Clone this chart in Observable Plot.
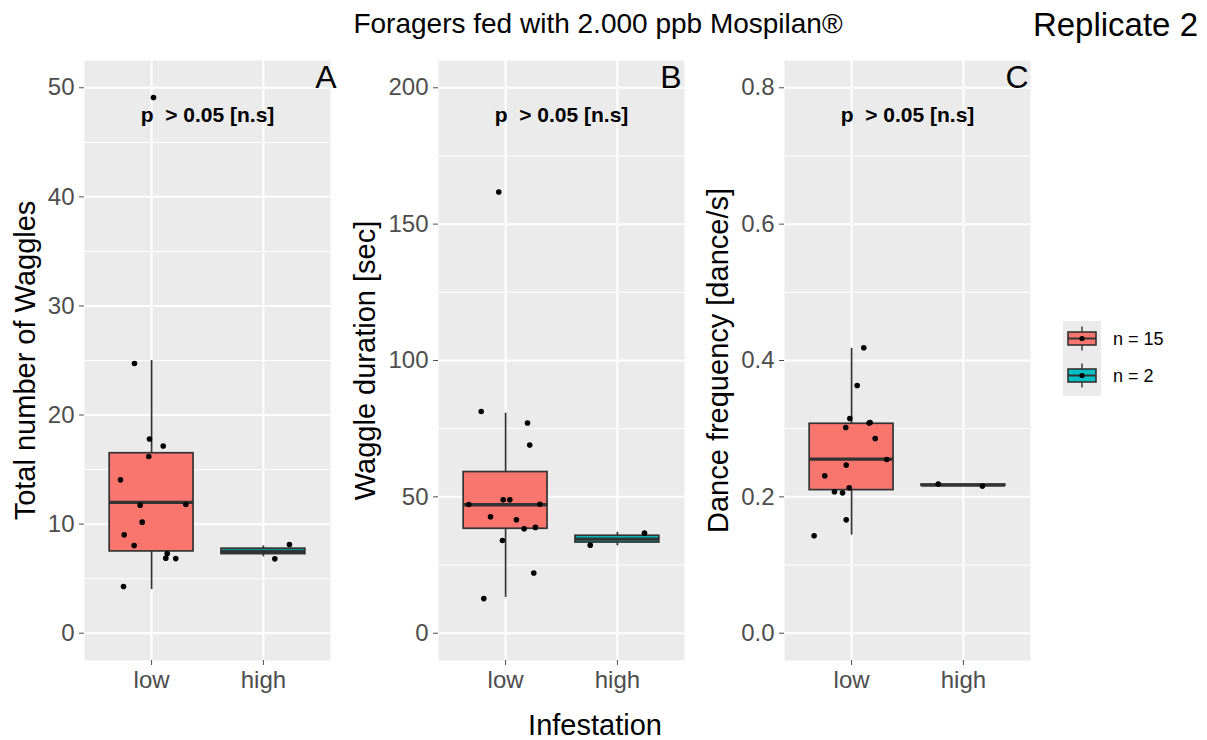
<!DOCTYPE html>
<html>
<head>
<meta charset="utf-8">
<script src="https://cdn.jsdelivr.net/npm/d3@7"></script>
<script src="https://cdn.jsdelivr.net/npm/@observablehq/plot@0.6"></script>
<style>
  body { margin: 0; background: #fff; }
  #chart { position: relative; width: 1207px; height: 740px; overflow: hidden;
           font-family: "Liberation Sans", Arial, Helvetica, sans-serif; }
  #chart > svg { position: absolute; top: 0; }
</style>
</head>
<body>
<div id="chart"></div>
<script>
// Groups, legend entries and fill colours
const groups = ["low", "high"];
const legendLabels = ["n = 15", "n = 2"];
const groupColors = ["#F8766D", "#00BFC4"];

// A: total number of waggles (jitter = horizontal offset in category units)
const countLow = [24.73, 17.80, 17.16, 16.20, 14.06, 11.74, 11.80, 10.18, 9.02, 8.04, 7.30, 6.88, 6.84, 4.28, 49.11];
const countLowJitter = [-0.153, -0.019, 0.104, -0.025, -0.278, -0.102, 0.306, -0.084, -0.245, -0.156, 0.14, 0.127, 0.216, -0.251, 0.017];
const countHigh = [8.13, 6.82];
const countHighJitter = [0.233, 0.102];
// box statistics: [lower whisker, Q1, median, Q3, upper whisker]
const countBoxLow = [4, 7.5, 12, 16.5, 25];
const countBoxHigh = [7, 7.25, 7.5, 7.75, 8];
const countTicks = [0, 10, 20, 30, 40, 50];
const countMinor = [5, 15, 25, 35, 45];

// B: waggle duration [sec]
const durationLow = [161.8, 81.3, 77.1, 69.0, 48.9, 48.9, 47.2, 47.3, 42.7, 41.6, 38.3, 38.8, 34.0, 22.1, 12.7];
const durationLowJitter = [-0.061, -0.218, 0.196, 0.216, -0.021, 0.038, -0.329, 0.306, -0.135, 0.097, 0.166, 0.267, -0.028, 0.252, -0.195];
const durationHigh = [32.3, 36.7];
const durationHighJitter = [-0.243, 0.242];
const durationBoxLow = [13.1, 38.3, 47.1, 59.1, 80.7];
const durationBoxHigh = [32, 33.25, 34.5, 35.75, 37];
const durationTicks = [0, 50, 100, 150, 200];
const durationMinor = [25, 75, 125, 175];

// C: dance frequency [dance/s]
const freqLow = [0.4188, 0.3634, 0.3150, 0.3083, 0.3091, 0.3018, 0.2857, 0.2548, 0.2466, 0.2309, 0.2133, 0.2074, 0.2059, 0.1663, 0.1428];
const freqLowJitter = [0.109, 0.05, -0.016, 0.157, 0.166, -0.052, 0.211, 0.315, -0.048, -0.24, -0.021, -0.153, -0.081, -0.048, -0.335];
const freqHigh = [0.2187, 0.2158];
const freqHighJitter = [-0.225, 0.17];
const freqBoxLow = [0.1439, 0.2099, 0.2554, 0.3072, 0.4178];
const freqBoxHigh = [0.2158, 0.2165, 0.21725, 0.2180, 0.2187];
const freqTicks = [0, 0.2, 0.4, 0.6, 0.8];
const freqMinor = [0.1, 0.3, 0.5, 0.7];

const pText = "p\u00a0\u00a0> 0.05 [n.s]";
const chart = document.getElementById("chart");
const HALF = 0.375; // half box width in category units

function panel(cfg) {
  const points = [
    ...cfg.low.map((v, i) => ({g: 1, v, j: cfg.lowJit[i]})),
    ...cfg.high.map((v, i) => ({g: 2, v, j: cfg.highJit[i]}))
  ];
  const boxes = [
    {g: 1, s: cfg.boxLow, fill: groupColors[0]},
    {g: 2, s: cfg.boxHigh, fill: groupColors[1]}
  ];
  const svg = Plot.plot({
    width: 345, height: 700,
    marginLeft: 84, marginRight: 15, marginTop: 60, marginBottom: 40,
    style: {background: "transparent", overflow: "visible", fontFamily: "Liberation Sans, Arial, sans-serif"},
    x: {domain: [0.4, 2.6]},
    y: {domain: cfg.domain},
    color: {type: "identity"},
    marks: [
      Plot.frame({fill: "#EBEBEB", stroke: "none"}),
      Plot.ruleY(cfg.minor, {stroke: "white", strokeWidth: 1}),
      Plot.ruleY(cfg.ticks, {stroke: "white", strokeWidth: 2}),
      Plot.ruleX([1, 2], {stroke: "white", strokeWidth: 2}),
      Plot.ruleX(boxes, {x: "g", y1: d => d.s[0], y2: d => d.s[4], stroke: "#333333", strokeWidth: 1.7}),
      Plot.rect(boxes, {x1: d => d.g - HALF, x2: d => d.g + HALF, y1: d => d.s[1], y2: d => d.s[3],
                        fill: "fill", stroke: "#333333", strokeWidth: 1.7}),
      Plot.ruleY(boxes, {y: d => d.s[2], x1: d => d.g - HALF, x2: d => d.g + HALF, stroke: "#333333", strokeWidth: 3.3}),
      Plot.dot(points, {x: d => d.g + d.j, y: "v", r: 2.8, fill: "black"}),
      Plot.axisY(cfg.ticks, {tickSize: 5, tickPadding: 5, fontSize: 24, color: "#4D4D4D", label: null,
                             tickFormat: cfg.tickFormat}),
      Plot.axisX([1, 2], {tickSize: 5, tickPadding: 5, fontSize: 24, color: "#4D4D4D", label: null,
                          tickFormat: d => groups[d - 1]}),
      Plot.text([cfg.yLabel], {text: d => d, frameAnchor: "left", dx: cfg.labelDx, rotate: -90,
                               textAnchor: "middle", lineAnchor: "middle", fontSize: 29, fill: "black"}),
      Plot.text([cfg.letter], {text: d => d, frameAnchor: "top-right", dx: cfg.letterDx, dy: 27,
                               textAnchor: "end", lineAnchor: "bottom", fontSize: 32, fill: "black"}),
      Plot.text([pText], {text: d => d, frameAnchor: "top", dy: 61, lineAnchor: "bottom",
                          fontSize: 21, fontWeight: "bold", fill: "black"})
    ]
  });
  svg.style.left = cfg.left + "px";
  chart.appendChild(svg);
}

panel({left: 0, low: countLow, lowJit: countLowJitter, high: countHigh, highJit: countHighJitter,
       boxLow: countBoxLow, boxHigh: countBoxHigh, ticks: countTicks, minor: countMinor,
       domain: [-2.5, 52.5], tickFormat: d3.format("d"), yLabel: "Total number of Waggles",
       labelDx: -59, letter: "A", letterDx: 6});
panel({left: 354, low: durationLow, lowJit: durationLowJitter, high: durationHigh, highJit: durationHighJitter,
       boxLow: durationBoxLow, boxHigh: durationBoxHigh, ticks: durationTicks, minor: durationMinor,
       domain: [-10, 210], tickFormat: d3.format("d"), yLabel: "Waggle duration [sec]",
       labelDx: -72.5, letter: "B", letterDx: -3});
panel({left: 700, low: freqLow, lowJit: freqLowJitter, high: freqHigh, highJit: freqHighJitter,
       boxLow: freqBoxLow, boxHigh: freqBoxHigh, ticks: freqTicks, minor: freqMinor,
       domain: [-0.04, 0.84], tickFormat: d3.format(".1f"), yLabel: "Dance frequency [dance/s]",
       labelDx: -66, letter: "C", letterDx: -2});

// Titles, shared x-axis title and legend
const overlay = d3.select(chart).append("svg")
  .attr("width", 1207).attr("height", 740)
  .style("left", "0px").style("pointer-events", "none")
  .style("font-family", "Liberation Sans, Arial, sans-serif");

overlay.append("text").attr("x", 598).attr("y", 33).attr("text-anchor", "middle")
  .attr("font-size", 28).attr("fill", "black").text("Foragers fed with 2.000 ppb Mospilan®");
overlay.append("text").attr("x", 1198).attr("y", 36).attr("text-anchor", "end")
  .attr("font-size", 33).attr("fill", "black").text("Replicate 2");
overlay.append("text").attr("x", 595).attr("y", 735).attr("text-anchor", "middle")
  .attr("font-size", 29).attr("fill", "black").text("Infestation");

const legend = overlay.append("g");
legend.append("rect").attr("x", 1063).attr("y", 321).attr("width", 38).attr("height", 75).attr("fill", "#EBEBEB");
legendLabels.forEach((label, i) => {
  const cy = 338.5 + i * 37, cx = 1082;
  const g = legend.append("g");
  g.append("line").attr("x1", cx).attr("x2", cx).attr("y1", cy - 12).attr("y2", cy + 12)
    .attr("stroke", "#333333").attr("stroke-width", 1.4);
  g.append("rect").attr("x", 1068).attr("y", cy - 6.5).attr("width", 28).attr("height", 13)
    .attr("fill", groupColors[i]).attr("stroke", "#333333").attr("stroke-width", 1.6);
  g.append("line").attr("x1", 1068).attr("x2", 1096).attr("y1", cy).attr("y2", cy)
    .attr("stroke", "#333333").attr("stroke-width", 2);
  g.append("circle").attr("cx", cx).attr("cy", cy).attr("r", 2.6).attr("fill", "black");
  g.append("text").attr("x", 1113).attr("y", cy).attr("dy", "0.35em")
    .attr("font-size", 18).attr("fill", "black").text(label);
});
</script>
</body>
</html>
